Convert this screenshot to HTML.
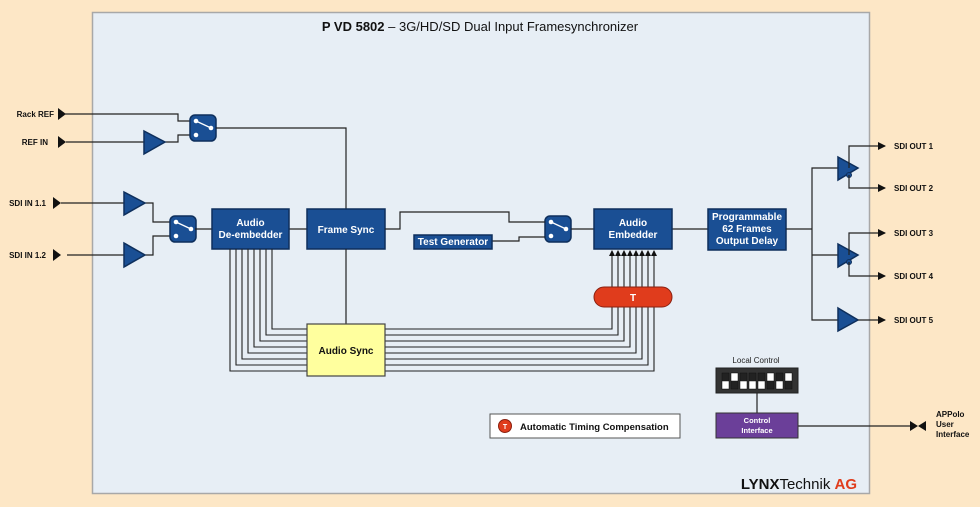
<!DOCTYPE html>
<html><head><meta charset="utf-8"><style>
html,body{margin:0;padding:0;background:#fde7c6;}
svg{display:block;font-family:"Liberation Sans",Arial,sans-serif;}
.b{fill:#1a4f94;stroke:#0e2f5c;stroke-width:1.5}
.w{fill:#fff;font-weight:bold;font-size:10px;text-anchor:middle}
.l{fill:none;stroke:#222;stroke-width:1.2}
.lb{font-size:8px;font-weight:bold;fill:#111}
</style></head><body>
<svg width="980" height="507" viewBox="0 0 980 507" xmlns="http://www.w3.org/2000/svg">
<defs><marker id="a" markerWidth="8" markerHeight="8" refX="7" refY="4" orient="auto" markerUnits="userSpaceOnUse"><path d="M0,0 L8,4 L0,8z" fill="#111"/></marker>
<marker id="s" markerWidth="6" markerHeight="6" refX="5" refY="3" orient="auto" markerUnits="userSpaceOnUse"><path d="M0,0 L6,3 L0,6z" fill="#111"/></marker></defs>
<rect x="0" y="0" width="980" height="507" fill="#fde7c6"/>
<rect x="92.5" y="12.5" width="777" height="481" fill="#e7eef5" stroke="#a8a8a8" stroke-width="1.5"/>
<text x="480" y="31" text-anchor="middle" font-size="13" fill="#111"><tspan font-weight="bold">P VD 5802</tspan> – 3G/HD/SD Dual Input Framesynchronizer</text>

<!-- left inputs -->
<text class="lb" x="54" y="117" text-anchor="end">Rack REF</text>
<path d="M58,108 L66,114 L58,120z" fill="#111"/>
<text class="lb" x="48" y="145" text-anchor="end">REF IN</text>
<path d="M58,136 L66,142 L58,148z" fill="#111"/>
<text class="lb" x="46" y="206" text-anchor="end">SDI IN 1.1</text>
<path d="M53,197 L61,203 L53,209z" fill="#111"/>
<text class="lb" x="46" y="258" text-anchor="end">SDI IN 1.2</text>
<path d="M53,249 L61,255 L53,261z" fill="#111"/>

<path class="l" d="M64,114 H178 V121 H190"/>
<path class="l" d="M66,142 H144 M165,142 H178 V135 H190"/>
<path class="b" d="M144,131 L165,142 L144,154z"/>
<path class="l" d="M61,203 H124 M145,203 H153 V222 H170"/>
<path class="l" d="M67,255 H124 M145,255 H153 V236 H170"/>
<path class="b" d="M124,192 L145,203 L124,215z"/>
<path class="b" d="M124,243 L145,255 L124,267z"/>

<!-- switches -->
<g id="sw"><rect x="190" y="115" width="26" height="26" rx="5" class="b"/><circle cx="196" cy="121" r="2.3" fill="#fff"/><circle cx="211" cy="128" r="2.3" fill="#fff"/><circle cx="196" cy="135" r="2.3" fill="#fff"/><path d="M196,121 L211,128" stroke="#fff" stroke-width="1.3"/></g>
<use href="#sw" x="-20" y="101"/>
<use href="#sw" x="355" y="101"/>
<path class="l" d="M216,128 H346 V209"/>
<path class="l" d="M195,229 H212 M289,229 H307"/>

<rect x="212" y="209" width="77" height="40" class="b"/>
<text class="w" x="250.5" y="226">Audio</text><text class="w" x="250.5" y="238">De-embedder</text>
<rect x="307" y="209" width="78" height="40" class="b"/>
<text class="w" x="346" y="233">Frame Sync</text>

<path class="l" d="M385,229 H400 V212 H509 V222 H545"/>
<path class="l" d="M492,241 H519 V237 H545" stroke="#555"/>
<rect x="414" y="235" width="78" height="14" class="b"/>
<text class="w" x="453" y="245" font-size="8">Test Generator</text>
<path class="l" d="M571,229 H594 M672,229 H708"/>
<rect x="594" y="209" width="78" height="40" class="b"/>
<text class="w" x="633" y="226">Audio</text><text class="w" x="633" y="238">Embedder</text>
<rect x="708" y="209" width="78" height="41" class="b"/>
<text class="w" x="747" y="220">Programmable</text><text class="w" x="747" y="232">62 Frames</text><text class="w" x="747" y="244">Output Delay</text>

<!-- outputs -->
<path class="l" d="M786,229 H812 V168 H838 M812,229 V320 H838 M812,255 H838"/>
<path class="b" d="M838,157 L858,168 L838,180z"/>
<path class="b" d="M838,244 L858,255 L838,267z"/>
<path class="b" d="M838,308 L858,320 L838,331z"/>
<circle cx="849" cy="175" r="2.5" fill="#1a4f94" stroke="#0e2f5c"/>
<circle cx="849" cy="262" r="2.5" fill="#1a4f94" stroke="#0e2f5c"/>
<path class="l" d="M849,168 V146 H885" marker-end="url(#a)"/>
<path class="l" d="M849,175 V188 H885" marker-end="url(#a)"/>
<path class="l" d="M849,255 V233 H885" marker-end="url(#a)"/>
<path class="l" d="M849,262 V276 H885" marker-end="url(#a)"/>
<path class="l" d="M858,320 H885" marker-end="url(#a)"/>
<text class="lb" x="894" y="149">SDI OUT 1</text>
<text class="lb" x="894" y="191">SDI OUT 2</text>
<text class="lb" x="894" y="236">SDI OUT 3</text>
<text class="lb" x="894" y="279">SDI OUT 4</text>
<text class="lb" x="894" y="323">SDI OUT 5</text>

<!-- audio bus -->
<path class="l" d="M346,249 V324"/>
<g fill="none" stroke="#222" stroke-width="1.1">
<path d="M272,249 V329 H612 V251"/>
<path d="M266,249 V335 H618 V251"/>
<path d="M260,249 V341 H624 V251"/>
<path d="M254,249 V347 H630 V251"/>
<path d="M248,249 V353 H636 V251"/>
<path d="M242,249 V359 H642 V251"/>
<path d="M236,249 V365 H648 V251"/>
<path d="M230,249 V371 H654 V251"/>
</g>
<g fill="#111">
<path d="M609,256 L612,250 L615,256z"/><path d="M615,256 L618,250 L621,256z"/><path d="M621,256 L624,250 L627,256z"/><path d="M627,256 L630,250 L633,256z"/><path d="M633,256 L636,250 L639,256z"/><path d="M639,256 L642,250 L645,256z"/><path d="M645,256 L648,250 L651,256z"/><path d="M651,256 L654,250 L657,256z"/>
</g>
<rect x="307" y="324" width="78" height="52" fill="#ffff9e" stroke="#444" stroke-width="1.2"/>
<text x="346" y="354" text-anchor="middle" font-size="10" font-weight="bold" fill="#111">Audio Sync</text>
<rect x="594" y="287" width="78" height="20" rx="10" fill="#e03c1c" stroke="#8a2010"/>
<text class="w" x="633" y="301" font-size="8">T</text>

<!-- local control -->
<text x="756" y="363" text-anchor="middle" font-size="8" fill="#222">Local Control</text>
<rect x="716" y="368" width="82" height="25" fill="#333" stroke="#222"/>
<g fill="#fff" stroke="#111" stroke-width="0.5">
<rect x="722" y="373" width="7" height="16" fill="#222"/><rect x="722" y="381" width="7" height="8"/>
<rect x="731" y="373" width="7" height="16" fill="#222"/><rect x="731" y="373" width="7" height="8"/>
<rect x="740" y="373" width="7" height="16" fill="#222"/><rect x="740" y="381" width="7" height="8"/>
<rect x="749" y="373" width="7" height="16" fill="#222"/><rect x="749" y="381" width="7" height="8"/>
<rect x="758" y="373" width="7" height="16" fill="#222"/><rect x="758" y="381" width="7" height="8"/>
<rect x="767" y="373" width="7" height="16" fill="#222"/><rect x="767" y="373" width="7" height="8"/>
<rect x="776" y="373" width="7" height="16" fill="#222"/><rect x="776" y="381" width="7" height="8"/>
<rect x="785" y="373" width="7" height="16" fill="#222"/><rect x="785" y="373" width="7" height="8"/>
</g>
<path class="l" d="M757,393 V413 M798,426 H912"/>
<rect x="716" y="413" width="82" height="25" fill="#6b3f99" stroke="#333"/>
<text x="757" y="423" text-anchor="middle" font-size="7.5" font-weight="bold" fill="#fff">Control</text>
<text x="757" y="433" text-anchor="middle" font-size="7.5" font-weight="bold" fill="#fff">Interface</text>
<path d="M910,421 L918,426 L910,431z M926,421 L918,426 L926,431z" fill="#111"/>
<text class="lb" x="936" y="417">APPolo</text>
<text class="lb" x="936" y="427">User</text>
<text class="lb" x="936" y="437">Interface</text>

<!-- legend -->
<rect x="490" y="414" width="190" height="24" fill="#fff" stroke="#555"/>
<circle cx="505" cy="426" r="6.5" fill="#e03c1c" stroke="#8a2010"/>
<text x="505" y="429" text-anchor="middle" font-size="7" font-weight="bold" fill="#fff">T</text>
<text x="520" y="430" font-size="9.5" font-weight="bold" fill="#111">Automatic Timing Compensation</text>

<text x="857" y="489" text-anchor="end" font-size="15" fill="#111"><tspan font-weight="bold">LYNX</tspan>Technik <tspan font-weight="bold" fill="#e03c1c">AG</tspan></text>
</svg>
</body></html>
